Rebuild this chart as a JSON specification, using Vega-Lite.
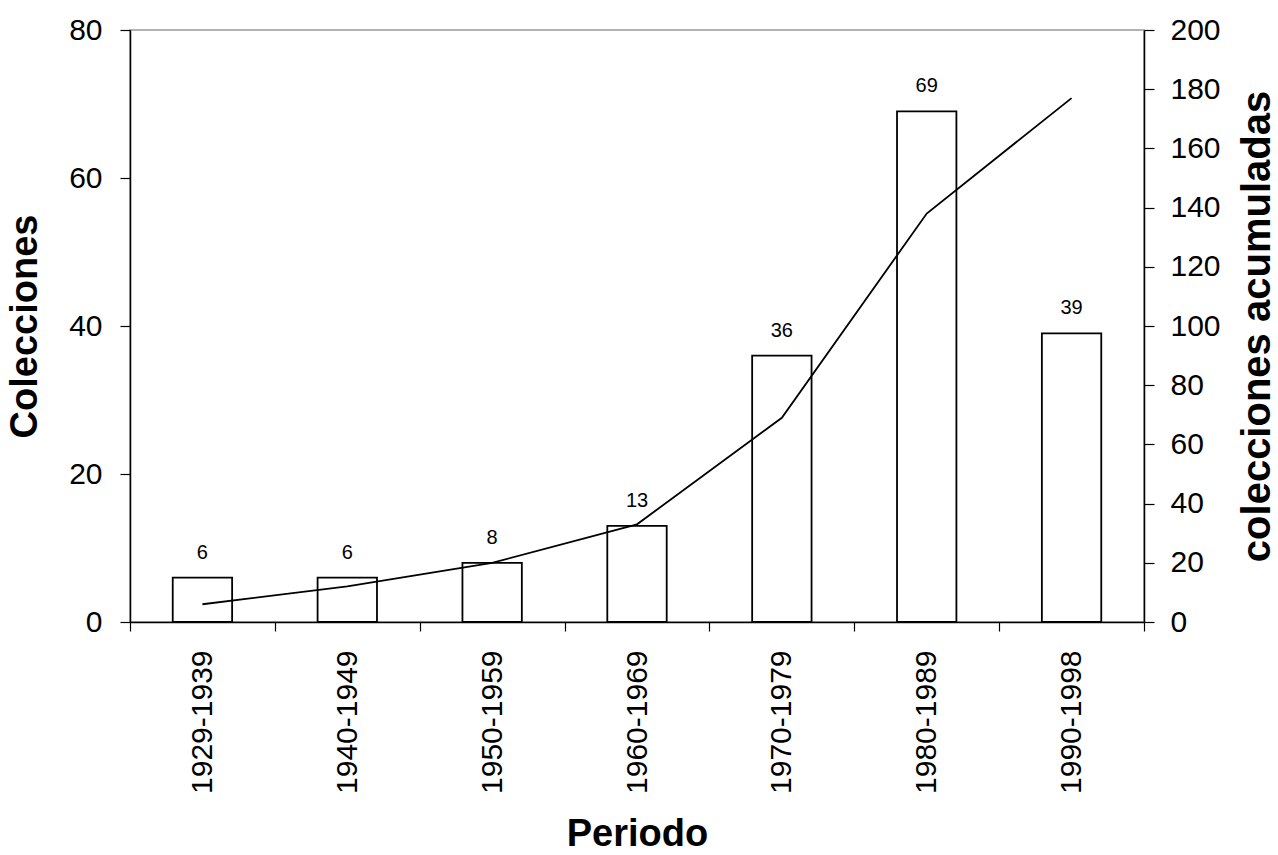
{
  "$schema": "https://vega.github.io/schema/vega-lite/v6.json",
  "width": 1014,
  "height": 592,
  "autosize": {"type": "none"},
  "padding": {"left": 130, "top": 30, "right": 134, "bottom": 233},
  "background": "white",
  "config": {
    "font": "Liberation Sans",
    "view": {"stroke": "#999999", "strokeWidth": 1.5},
    "axis": {"domainColor": "black", "tickColor": "black", "labelColor": "black", "titleColor": "black", "domainWidth": 1.5, "tickWidth": 1.2, "grid": false}
  },
  "data": {
    "values": [
      {"periodo": "1929-1939", "colecciones": 6, "acumuladas": 6},
      {"periodo": "1940-1949", "colecciones": 6, "acumuladas": 12},
      {"periodo": "1950-1959", "colecciones": 8, "acumuladas": 20},
      {"periodo": "1960-1969", "colecciones": 13, "acumuladas": 33},
      {"periodo": "1970-1979", "colecciones": 36, "acumuladas": 69},
      {"periodo": "1980-1989", "colecciones": 69, "acumuladas": 138},
      {"periodo": "1990-1998", "colecciones": 39, "acumuladas": 177}
    ]
  },
  "encoding": {
    "x": {
      "field": "periodo",
      "type": "nominal",
      "sort": null,
      "scale": {"paddingInner": 0, "paddingOuter": 0},
      "axis": {
        "title": "Periodo",
        "titleFontSize": 38,
        "titleFontWeight": "bold",
        "titlePadding": 22,
        "labelAngle": 270,
        "labelFontSize": 30,
        "labelPadding": 19,
        "tickSize": 9,
        "tickBand": "extent",
        "labelAlign": "right",
        "labelBaseline": "middle"
      }
    }
  },
  "layer": [
    {
      "encoding": {
        "y": {
          "field": "colecciones",
          "type": "quantitative",
          "scale": {"domain": [0, 80], "nice": false},
          "axis": {
            "title": "Colecciones",
            "titleFontSize": 38,
            "titleFontWeight": "bold",
            "titlePadding": 24,
            "labelFontSize": 30,
            "labelPadding": 18,
            "tickSize": 10,
            "values": [0, 20, 40, 60, 80]
          }
        }
      },
      "layer": [
        {
          "mark": {"type": "bar", "fill": "white", "stroke": "black", "strokeWidth": 1.8, "width": {"band": 0.41}}
        },
        {
          "mark": {"type": "text", "fontSize": 20, "baseline": "alphabetic", "dy": -19, "color": "black"},
          "encoding": {
            "text": {"field": "colecciones", "type": "quantitative"}
          }
        }
      ]
    },
    {
      "mark": {"type": "line", "color": "black", "strokeWidth": 1.8},
      "encoding": {
        "y": {
          "field": "acumuladas",
          "type": "quantitative",
          "scale": {"domain": [0, 200], "nice": false},
          "axis": {
            "orient": "right",
            "title": "colecciones acumuladas",
            "titleAngle": 270,
            "titleBaseline": "top",
            "titleFontSize": 40,
            "titleFontWeight": "bold",
            "titlePadding": 17,
            "labelFontSize": 30,
            "labelPadding": 16,
            "tickSize": 10,
            "values": [0, 20, 40, 60, 80, 100, 120, 140, 160, 180, 200]
          }
        }
      }
    }
  ],
  "resolve": {"scale": {"y": "independent"}}
}
